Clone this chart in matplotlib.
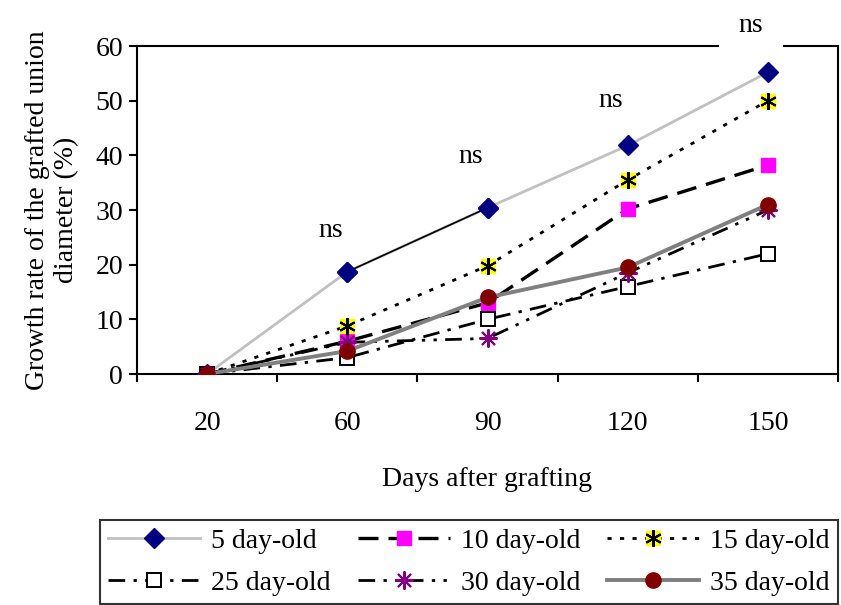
import matplotlib
matplotlib.use("Agg")
import matplotlib.pyplot as plt
import numpy as np

categories = ["20", "60", "90", "120", "150"]
s5 = [0, 18.7, 30.4, 41.8, 55.2]
s10 = [0, 6.0, 13.0, 30.2, 38.2]
s15 = [0, 8.8, 19.8, 35.5, 50.0]
s25 = [0, 3.0, 10.0, 16.0, 22.0]
s30 = [0, 5.8, 6.5, 18.5, 30.0]
s35 = [0, 4.2, 14.0, 19.5, 31.0]
series_labels = ["5 day-old", "10 day-old", "15 day-old", "25 day-old", "30 day-old", "35 day-old"]
ns_y = [26.3, 39.7, 50.1, 63.8]
ns_cat = [1, 2, 3, 4]
yticks = [0, 10, 20, 30, 40, 50, 60]

plt.rcParams['font.family'] = ['Liberation Serif', 'DejaVu Serif']
FS = 20

fig = plt.figure(figsize=(8.41, 6.05), dpi=100)
ax = fig.add_axes([137/841, 1-374/605, (838-137)/841, (374-46)/605])
x = np.arange(len(categories))

h5, = ax.plot(x, s5, color='#c0c0c0', lw=2, marker='D', ms=10, mfc='#000080', mec='#000080', zorder=3)
ax.plot(x[1:3], s5[1:3], color='black', lw=1.2, zorder=3.5)
ax.plot(x[1:3], s5[1:3], ls='none', marker='D', ms=10, mfc='#000080', mec='#000080', zorder=4)
h10, = ax.plot(x, s10, color='black', lw=2.4, ls=(0, (6, 3)), marker='s', ms=10, mfc='#ff00ff', mec='#ff00ff', zorder=3)
h15, = ax.plot(x, s15, color='black', lw=2, ls=(0, (1.5, 3)), marker='s', ms=10, mfc='#ffff00', mec='#ffff00', zorder=3)
h15s, = ax.plot(x, s15, ls='none', marker=(6, 2, 0), ms=12, mec='black', mew=1.5, zorder=3.2)
h25, = ax.plot(x, s25, color='black', lw=2, ls=(0, (6, 3, 1.2, 3)), marker='s', ms=10, mfc='white', mec='black', mew=1.4, zorder=3)
h30, = ax.plot(x, s30, color='black', lw=2, ls=(0, (6, 3, 1.2, 3, 1.2, 3)), marker=(8, 2, 0), ms=13, mec='#800080', mew=1.5, zorder=3)
h35, = ax.plot(x, s35, color='#808080', lw=2.8, marker='o', ms=11, mfc='#800000', mec='#800000', zorder=3.6)

for c, yv in zip(ns_cat, ns_y):
    kw = {}
    if yv > 60:
        kw['bbox'] = dict(facecolor='white', edgecolor='none', pad=14)
    ax.text(c - 0.12, yv, "ns", ha='center', va='center', fontsize=FS, clip_on=False, zorder=5, **kw)

ax.set_xlim(-0.5, len(categories) - 0.5)
ax.set_ylim(0, 60)
ax.set_yticks(yticks)
ax.set_xticks(x)
ax.set_xticklabels(categories)
ax.set_xticks(np.arange(-0.5, len(categories)), minor=True)
ax.tick_params(axis='x', which='major', length=0, labelsize=FS, pad=27)
ax.tick_params(axis='x', which='minor', length=6, width=1.5, direction='out')
ax.tick_params(axis='y', length=6, width=1.5, direction='out', labelsize=FS, pad=4)
for sp in ax.spines.values():
    sp.set_linewidth(1.5)
ax.set_xlabel("Days after grafting", fontsize=FS, labelpad=22)
ax.set_ylabel("Growth rate of the grafted union\ndiameter (%)", fontsize=FS, labelpad=12)

all_handles = [h5, h10, (h15, h15s), h25, h30, h35]
row_order = [0, 3, 1, 4, 2, 5]
leg = fig.legend([all_handles[i] for i in row_order],
                 [series_labels[i] for i in row_order], loc='lower left',
                 bbox_to_anchor=(100/841, 1/605, 738/841, 83/605), mode='expand', ncol=3,
                 fontsize=FS, frameon=True, fancybox=False, edgecolor='black',
                 handlelength=3.3, handletextpad=0.4, borderaxespad=0, columnspacing=1.0,
                 labelspacing=0.6, borderpad=0.3)
leg.get_frame().set_linewidth(1.5)

fig.savefig("out.png", dpi=100)
